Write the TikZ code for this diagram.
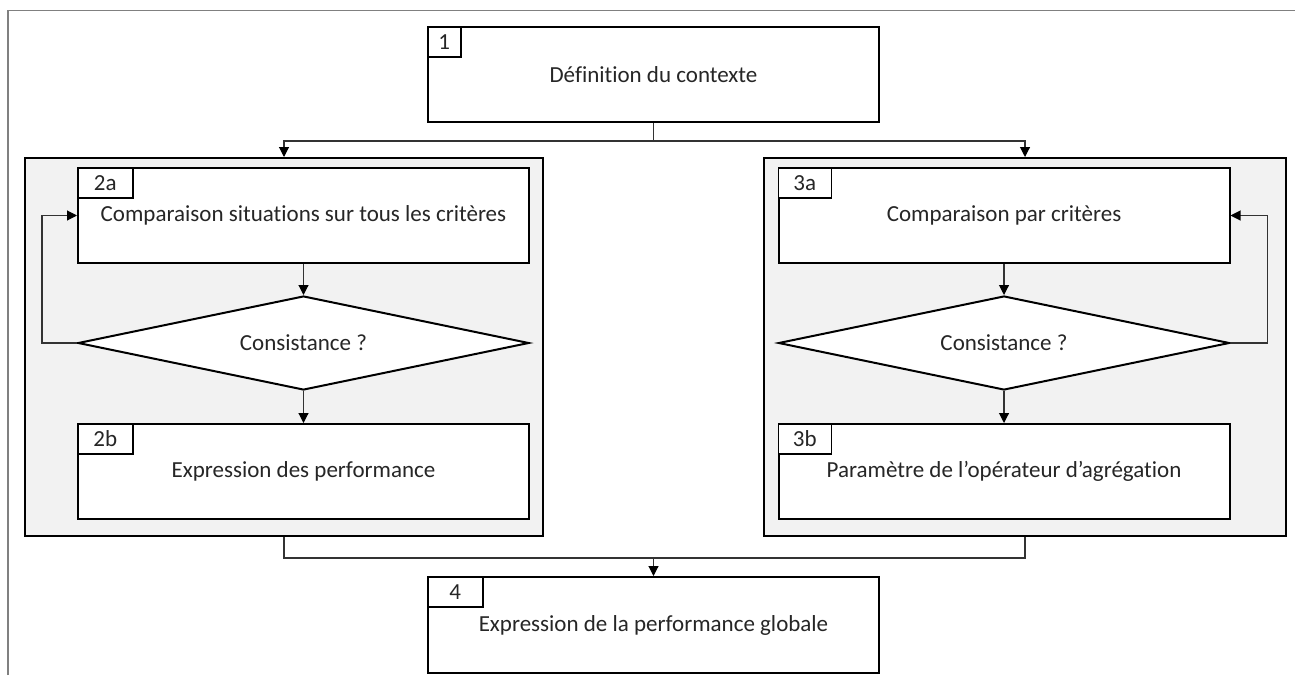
\documentclass[tikz,border=0pt]{standalone}
\usepackage{fontspec}
\setmainfont{Carlito}[Ligatures=NoCommon]
\usepackage{xcolor}
\usepackage{tikz}
\usetikzlibrary{arrows.meta, positioning, shapes.geometric, calc}
\definecolor{mygray}{RGB}{242,242,242}
\definecolor{myframe}{RGB}{128,128,128}
\definecolor{mytext}{RGB}{38,38,38}

\begin{document}
\begin{tikzpicture}[x=1pt, y=-1pt,
  every node/.style={font=\fontsize{23}{27}\selectfont, text=mytext},
  stepbox/.style={draw, line width=2pt, fill=white, minimum width=451pt, minimum height=95pt, inner sep=0pt},
  tagbox/.style={draw, line width=1.6pt, fill=white, anchor=north west, minimum height=30pt, inner sep=0pt},
  groupbox/.style={draw, line width=2pt, fill=mygray, minimum height=378pt},
  checkbox/.style={diamond, aspect=4.8, draw, line width=2pt, fill=white, minimum width=451pt, minimum height=94pt, inner sep=0pt},
  link/.style={draw=black!80, line width=1.1pt},
  flow/.style={link, -{Triangle[length=10pt, width=10pt, color=black]}}]
  \useasboundingbox (0,0) rectangle (1295,675);

  % outer frame
  \draw[myframe, line width=1.8pt] (8,675) -- (8,10.5) -- (1295,10.5);

  % step 1
  \node[stepbox] (def) at (653.5,74.5) {Définition du contexte};
  \node[tagbox, minimum width=33pt] (tag1) at (def.north west) {1};

  % groups
  \node[groupbox, minimum width=518pt] (grpA) at (284,347) {};
  \node[groupbox, minimum width=522pt] (grpB) at (1025,347) {};

  % left branch
  \node[stepbox] (cmpA) at (303.5,215.5) {Comparaison situations sur tous les critères};
  \node[tagbox, minimum width=55pt] (tag2a) at (cmpA.north west) {2a};
  \node[checkbox] (chkA) at (303.5,343) {Consistance ?};
  \node[stepbox] (perfA) at (303.5,471.5) {Expression des performance};
  \node[tagbox, minimum width=55pt] (tag2b) at (perfA.north west) {2b};

  % right branch
  \node[stepbox] (cmpB) at (1004,215.5) {Comparaison par critères};
  \node[tagbox, minimum width=53pt] (tag3a) at (cmpB.north west) {3a};
  \node[checkbox] (chkB) at (1004,343) {Consistance ?};
  \node[stepbox] (perfB) at (1004,471.5) {Paramètre de l’opérateur d’agrégation};
  \node[tagbox, minimum width=53pt] (tag3b) at (perfB.north west) {3b};

  % step 4
  \node[stepbox, minimum height=96pt] (glob) at (653.5,625) {Expression de la performance globale};
  \node[tagbox, minimum width=55pt] (tag4) at (glob.north west) {4};

  % split
  \draw[link] (def.south) -- ++(0,18) coordinate (split);
  \draw[flow] (split) -| (grpA.north);
  \draw[flow] (split) -| (grpB.north);

  % loops
  \draw[flow] (cmpA.south) -- (chkA.north);
  \draw[flow] (chkA.south) -- (perfA.north);
  \draw[flow] (chkA.west) -- ++(-35,0) |- (cmpA.west);
  \draw[flow] (cmpB.south) -- (chkB.north);
  \draw[flow] (chkB.south) -- (perfB.north);
  \draw[flow] (chkB.east) -- ++(37,0) |- (cmpB.east);

  % merge
  \draw[link] (grpA.south) -- ++(0,21) coordinate (merge) -| (grpB.south);
  \draw[flow] (merge -| glob.north) -- (glob.north);
\end{tikzpicture}
\end{document}
